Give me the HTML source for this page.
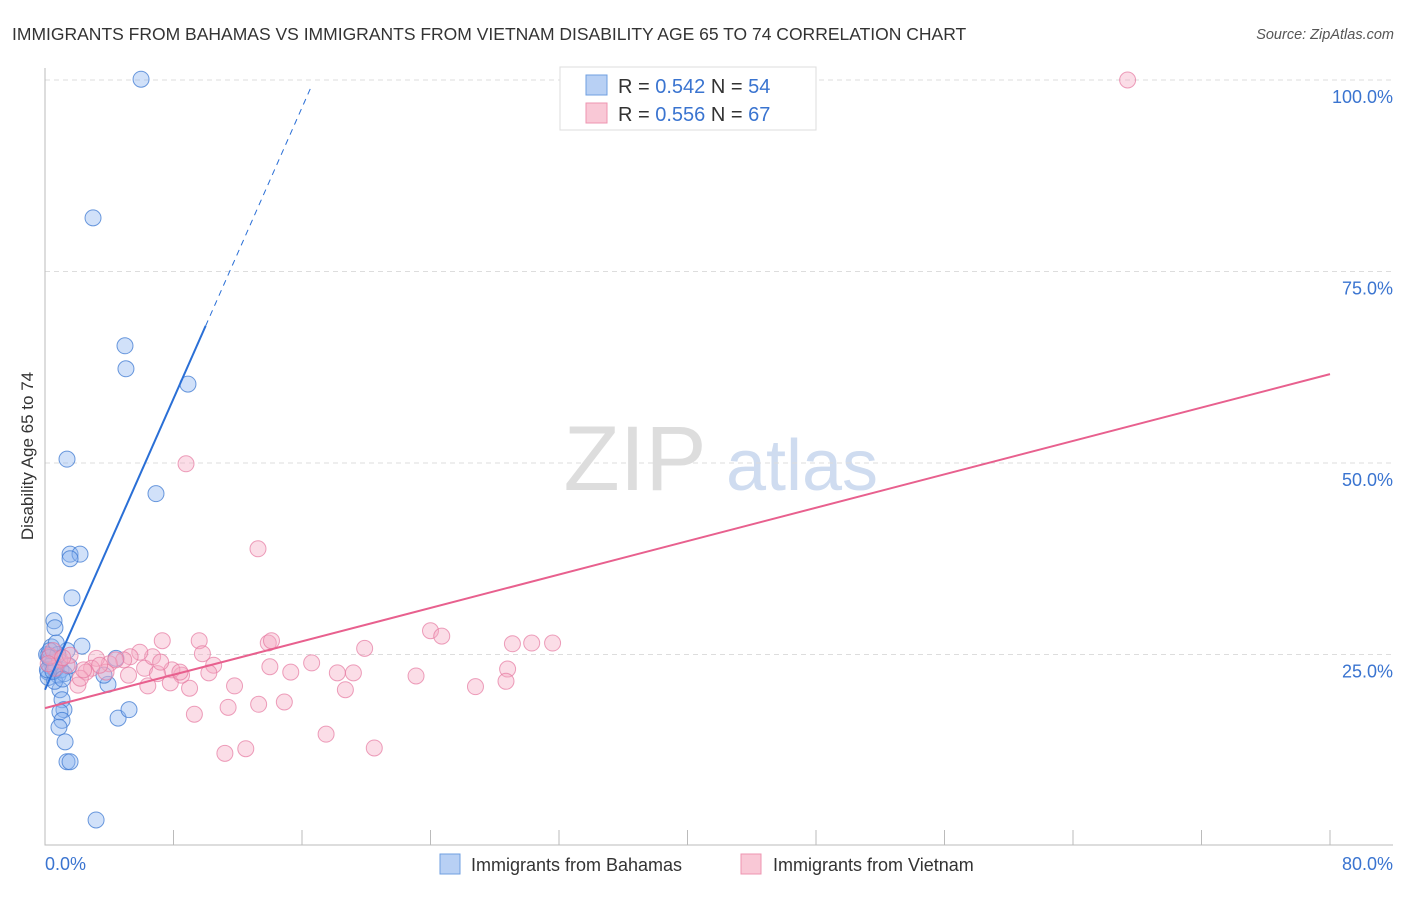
<!DOCTYPE html>
<html><head><meta charset="utf-8"><style>
body{margin:0;background:#fff;font-family:"Liberation Sans",sans-serif;}
svg text{font-family:"Liberation Sans",sans-serif;}
</style></head><body>
<svg width="1406" height="892" xmlns="http://www.w3.org/2000/svg">
<text x="12" y="40" font-size="17.5" fill="#333">IMMIGRANTS FROM BAHAMAS VS IMMIGRANTS FROM VIETNAM DISABILITY AGE 65 TO 74 CORRELATION CHART</text>
<text x="1394" y="39" font-size="14.5" fill="#555" font-style="italic" text-anchor="end">Source: ZipAtlas.com</text>
<text transform="translate(33,456) rotate(-90)" font-size="17" fill="#333" text-anchor="middle">Disability Age 65 to 74</text>
<g>
<text x="635" y="490" font-size="92" fill="#ddd" font-family="Liberation Serif" text-anchor="middle">ZIP</text>
<text x="802" y="490" font-size="72" fill="#cfdcf0" text-anchor="middle">atlas</text>
</g>
<g id="grid"></g>
<g id="axes"></g>
<g id="marks"></g>
<g>
<rect x="560" y="67" width="256" height="63" fill="#fff" stroke="#ddd"/>
<rect x="586" y="75" width="21" height="20" fill="#b8d0f4" stroke="#6f9fe0"/>
<rect x="586" y="103" width="21" height="20" fill="#f9c8d6" stroke="#ee94b0"/>
<text x="618" y="93" font-size="20" fill="#333">R = <tspan fill="#3a74d0">0.542</tspan>   N = <tspan fill="#3a74d0">54</tspan></text>
<text x="618" y="121" font-size="20" fill="#333">R = <tspan fill="#3a74d0">0.556</tspan>   N = <tspan fill="#3a74d0"> 67</tspan></text>
</g>
<g>
<rect x="440" y="854" width="20" height="20" fill="#b8d0f4" stroke="#6f9fe0"/>
<text x="471" y="871" font-size="18" fill="#333">Immigrants from Bahamas</text>
<rect x="741" y="854" width="20" height="20" fill="#f9c8d6" stroke="#ee94b0"/>
<text x="773" y="871" font-size="18" fill="#333">Immigrants from Vietnam</text>
</g>
</svg>
<script>
const yTicks=[25,50,75,100];
const yTickLabels=["25.0%","50.0%","75.0%","100.0%"];
const xTickLabels=["0.0%","80.0%"];
const bahamasX=[5.98,2.99,4.98,5.04,8.9,1.37,6.91,1.56,2.18,1.56,1.68,0.56,0.62,2.3,1.37,0.19,0.31,0.44,0.62,0.81,0.19,0.93,1.06,1.18,0.93,1.06,0.87,1.25,1.37,1.56,4.55,5.23,3.92,3.67,4.42,3.18,0.1,0.3,0.5,0.7,0.9,0.2,0.4,0.6,1.0,0.3,1.2,0.8,0.15,0.5,1.5,0.25,0.7,1.1];
const bahamasY=[100.1,82.0,65.3,62.3,60.3,50.5,46.0,38.1,38.1,37.5,32.4,29.4,28.5,26.1,25.5,24.9,24.3,23.6,23.0,22.3,22.7,20.4,19.1,17.8,17.5,16.4,15.5,13.6,11.0,11.0,16.7,17.8,21.1,22.3,24.5,3.4,25,23.5,24,23.2,24.1,22.0,26,21.5,23,25.5,22.5,25,23,22.8,23.5,24.6,26.5,21.8];
const vietnamX=[67.4,8.78,13.26,24.0,24.7,29.1,30.3,31.6,19.9,13.9,14.1,9.6,7.3,9.8,16.6,14.0,28.8,18.2,19.2,23.1,28.7,26.8,18.7,11.8,10.5,10.2,9.0,8.5,7.9,7.8,6.4,6.2,7.0,6.7,5.9,5.3,4.9,4.0,3.8,3.2,2.9,2.55,2.05,2.2,5.2,9.3,11.4,13.3,14.9,17.5,11.2,12.5,20.5,7.2,1.37,0.93,0.62,0.3,1.56,3.4,4.4,15.3,8.4,0.5,1.1,2.4,0.2];
const vietnamY=[100,49.9,38.8,28.1,27.4,26.4,26.5,26.5,25.8,26.5,26.8,26.8,26.8,25.1,23.9,23.4,23.1,22.6,22.6,22.2,21.5,20.8,20.4,20.9,23.6,22.6,20.6,22.3,23.0,21.3,20.9,23.2,22.5,24.7,25.3,24.7,24.3,23.8,22.7,24.5,23.2,22.7,21.0,21.9,22.3,17.2,18.1,18.5,18.8,14.6,12.1,12.7,12.8,24.0,23.6,24.3,23.2,24.8,24.9,23.6,24.3,22.7,22.7,25.5,24.6,23.0,23.8];
const bahamasTrend=[20.4,4.75]; // intercept, slope
const vietnamTrend=[18.0,0.545];
const NS="http://www.w3.org/2000/svg";
const X=v=>45+v*(1330-45)/80;
const Y=v=>846-v*7.66;
function mk(tag,attrs,parent){const e=document.createElementNS(NS,tag);for(const k in attrs)e.setAttribute(k,attrs[k]);parent.appendChild(e);return e;}
const grid=document.getElementById('grid'),axes=document.getElementById('axes'),marks=document.getElementById('marks');
yTicks.forEach((t,i)=>{
 const l=mk('line',{x1:45,x2:1393,y1:Y(t),y2:Y(t),stroke:'#ddd','stroke-dasharray':'5,4'},grid);
 
 
 const tx=mk('text',{x:1393,y:Y(t)+23,'font-size':18,fill:'#3a74d0','text-anchor':'end'},axes);
 tx.textContent=yTickLabels[i];
 
 
});
const ax=mk('path',{d:'M45 68V845H1393',stroke:'#bbb',fill:'none'},axes);


for(let k=0;k<=10;k++){const xx=45+k*128.5;const t=mk('line',{x1:xx,x2:xx,y1:830,y2:845,stroke:'#bbb'},axes);
 
 }
const xl0=mk('text',{x:45,y:870,'font-size':18,fill:'#3a74d0'},axes);xl0.textContent=xTickLabels[0];


const xl1=mk('text',{x:1393,y:870,'font-size':18,fill:'#3a74d0','text-anchor':'end'},axes);xl1.textContent=xTickLabels[1];


bahamasX.forEach((v,i)=>{const c=mk('circle',{cx:X(v),cy:Y(bahamasY[i]),r:8,fill:'rgba(140,180,240,0.4)',stroke:'rgba(60,120,210,0.75)','stroke-width':1},marks);
 
 });
vietnamX.forEach((v,i)=>{const c=mk('circle',{cx:X(v),cy:Y(vietnamY[i]),r:8,fill:'rgba(246,170,195,0.4)',stroke:'rgba(230,120,160,0.7)','stroke-width':1},marks);
 
 });
const bx1=10,bx2=(99.3-bahamasTrend[0])/bahamasTrend[1];
const b1=mk('line',{x1:X(0),y1:Y(bahamasTrend[0]),x2:X(bx1),y2:Y(bahamasTrend[0]+bahamasTrend[1]*bx1),stroke:'#2a6fd6','stroke-width':2},marks);


const b2=mk('line',{x1:X(bx1),y1:Y(bahamasTrend[0]+bahamasTrend[1]*bx1),x2:X(bx2),y2:Y(bahamasTrend[0]+bahamasTrend[1]*bx2),stroke:'#2a6fd6','stroke-width':1,'stroke-dasharray':'6,5'},marks);


const v1=mk('line',{x1:X(0),y1:Y(vietnamTrend[0]),x2:X(80),y2:Y(vietnamTrend[0]+vietnamTrend[1]*80),stroke:'#e8608e','stroke-width':2},marks);


</script>
</body></html>
